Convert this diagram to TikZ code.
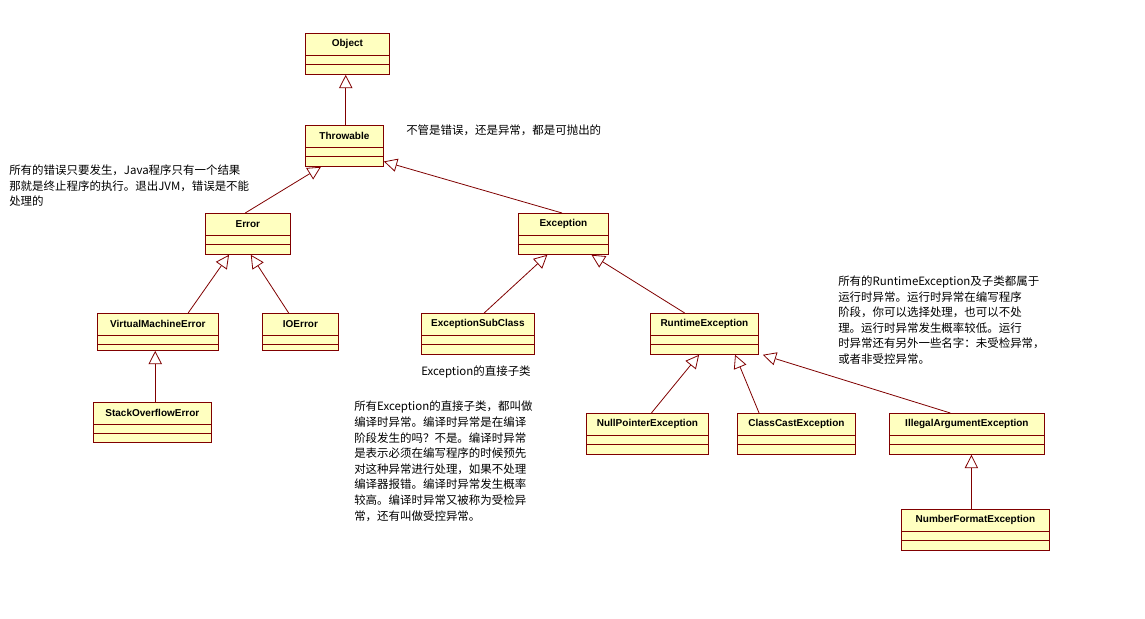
\documentclass[tikz,border=0pt]{standalone}
\usepackage{fontspec}
\setmainfont{Liberation Sans}
\newfontfamily\cjk{Noto Sans CJK SC}
\usetikzlibrary{arrows.meta,calc}
\definecolor{umlred}{RGB}{128,0,0}
\definecolor{umlfill}{RGB}{255,255,192}
\tikzset{
  cls/.style={draw=umlred, fill=umlfill, semithick, anchor=north west, inner sep=0pt,
    font=\fontsize{7.5}{9}\selectfont\bfseries},
  gen/.style={draw=umlred, semithick, -{Triangle[open,length=10pt,width=10pt,fill=white]}},
  note/.style={anchor=north west, inner sep=0pt, align=left, font=\cjk\fontsize{8.6}{11.6}\selectfont}
}
% box: name, left, top, right, bottom, text
\newcommand{\umlbox}[6]{
  \node[cls, minimum width={(#4-#2)*0.75pt}, minimum height={(#5-#3)*0.75pt}] (#1) at (#2,#3) {};
  \node[font=\fontsize{7.5}{9}\selectfont\bfseries] at ($(#1.north)+(0,11)$) {#6};
  \draw[umlred, semithick] (#2,#3+22) -- (#4,#3+22) (#2,#3+31) -- (#4,#3+31);
}
\begin{document}
\begin{tikzpicture}[x=0.75pt,y=-0.75pt]
\fill[white] (0,0) rectangle (1145,618);
\useasboundingbox (0,0) rectangle (1145,618);
\umlbox{obj}{305}{33}{389}{74}{Object}
\umlbox{thr}{305}{125}{383}{166}{Throwable}
\umlbox{err}{205}{213}{290}{254}{Error}
\umlbox{exc}{518}{213}{608}{254}{Exception}
\umlbox{vme}{97}{313}{218}{350}{VirtualMachineError}
\umlbox{ioe}{262}{313}{338}{350}{IOError}
\umlbox{esc}{421}{313}{534}{354}{ExceptionSubClass}
\umlbox{rte}{650}{313}{758}{354}{RuntimeException}
\umlbox{soe}{93}{402}{211}{442}{StackOverflowError}
\umlbox{npe}{586}{413}{708}{454}{NullPointerException}
\umlbox{cce}{737}{413}{855}{454}{ClassCastException}
\umlbox{iae}{889}{413}{1044}{454}{IllegalArgumentException}
\umlbox{nfe}{901}{509}{1049}{550}{NumberFormatException}
% generalisations
\draw[gen] ([xshift=1]thr.north) -- ([xshift=1]thr.north |- obj.south);
\draw[gen] ([xshift=-2]err.north) -- ([xshift=12]thr.south west);
\draw[gen] ([xshift=-1]exc.north) -- ([yshift=4]thr.south east);
\draw[gen] ([xshift=-23]vme.north east) -- ([xshift=18]err.south west);
\draw[gen] ([xshift=20]ioe.north west) -- ([xshift=-30]err.south east);
\draw[gen] ([xshift=-38]esc.north east) -- ([xshift=22]exc.south west);
\draw[gen] ([xshift=26]rte.north west) -- ([xshift=-13]exc.south east);
\draw[gen] ([xshift=-2]vme.south |- soe.north) -- ([xshift=-2]vme.south);
\draw[gen] ([xshift=3]npe.north) -- ([xshift=-4]rte.south);
\draw[gen] ([xshift=-28]cce.north) -- ([xshift=23]rte.south);
\draw[gen] ([xshift=46]iae.north west) -- ([xshift=3]rte.south east);
\draw[gen] ([xshift=-3]nfe.north) -- ([xshift=-3]nfe.north |- iae.south);
% notes
\node[note] (n1) at (9,165) {所有的错误只要发生，Java程序只有一个结果\\那就是终止程序的执行。退出JVM，错误是不能\\处理的};
\node[note] (n2) at (406,125) {不管是错误，还是异常，都是可抛出的};
\node[note] (n3) at (421,366) {Exception的直接子类};
\node[note, font=\cjk\fontsize{8.6}{11.7}\selectfont] (n4) at (354,401) {所有Exception的直接子类，都叫做\\编译时异常。编译时异常是在编译\\阶段发生的吗？不是。编译时异常\\是表示必须在编写程序的时候预先\\对这种异常进行处理，如果不处理\\编译器报错。编译时异常发生概率\\较高。编译时异常又被称为受检异\\常，还有叫做受控异常。};
\node[note] (n5) at (838,276) {所有的RuntimeException及子类都属于\\运行时异常。运行时异常在编写程序\\阶段，你可以选择处理，也可以不处\\理。运行时异常发生概率较低。运行\\时异常还有另外一些名字：未受检异常，\\或者非受控异常。};
\end{tikzpicture}
\end{document}
